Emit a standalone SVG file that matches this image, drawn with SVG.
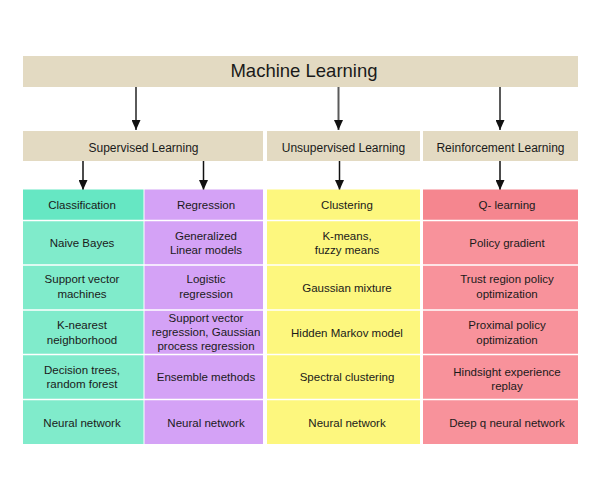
<svg xmlns="http://www.w3.org/2000/svg" width="601" height="501" viewBox="0 0 601 501">
  <defs>
    <style>
      text { font-family: "Liberation Sans", Arial, sans-serif; fill: #1a1a1a; text-anchor: middle; }
      .hdr { fill: #e3dac2; }
      .title { font-size: 18.5px; }
      .cat { font-size: 12px; }
      .cell { font-size: 11.5px; }
      .sep { stroke: #ffffff; stroke-width: 1.5; }
      .link-main { stroke: #5a5a5a; stroke-width: 2; fill: none; }
      .link-sub { stroke: #111111; stroke-width: 1.5; fill: none; }
    </style>
    <marker id="arrow" viewBox="0 0 10 9" refX="10" refY="4.5" markerWidth="10" markerHeight="9" markerUnits="userSpaceOnUse" orient="auto">
      <path d="M0,0 L10,4.5 L0,9 Z" fill="#111111"/>
    </marker>
  </defs>

  <rect width="601" height="501" fill="#ffffff"/>

  <!-- root -->
  <g id="machine-learning">
    <rect class="hdr" x="23" y="56" width="555" height="31"/>
    <text class="title" x="304" y="77">Machine Learning</text>
  </g>

  <!-- learning paradigms -->
  <g id="supervised">
    <rect class="hdr" x="23" y="131" width="240" height="30"/>
    <text class="cat" x="143.5" y="152">Supervised Learning</text>
  </g>
  <g id="unsupervised">
    <rect class="hdr" x="267" y="131" width="153" height="30"/>
    <text class="cat" x="343.5" y="152">Unsupervised Learning</text>
  </g>
  <g id="reinforcement">
    <rect class="hdr" x="423" y="131" width="155" height="30"/>
    <text class="cat" x="500.5" y="152">Reinforcement Learning</text>
  </g>

  <!-- connectors -->
  <g id="connectors">
    <line class="link-main" x1="136" y1="87" x2="136" y2="130" marker-end="url(#arrow)"/>
    <line class="link-main" x1="338.5" y1="87" x2="338.5" y2="130" marker-end="url(#arrow)"/>
    <line class="link-main" x1="500" y1="87" x2="500" y2="130" marker-end="url(#arrow)"/>
    <line class="link-sub" x1="83" y1="161" x2="83" y2="190" marker-end="url(#arrow)"/>
    <line class="link-sub" x1="203.5" y1="161" x2="203.5" y2="190" marker-end="url(#arrow)"/>
    <line class="link-sub" x1="339.5" y1="161" x2="339.5" y2="190" marker-end="url(#arrow)"/>
    <line class="link-sub" x1="500" y1="161" x2="500" y2="190" marker-end="url(#arrow)"/>
  </g>

  <!-- Classification column -->
  <g id="classification">
    <rect x="23" y="189.5" width="120.5" height="31" fill="#66e7c3"/>
    <rect x="23" y="220.5" width="120.5" height="223.5" fill="#80ebcb"/>
    <text class="cell" x="82" y="209">Classification</text>
    <text class="cell" x="82" y="247">Naive Bayes</text>
    <text class="cell" x="82" y="283">Support vector</text>
    <text class="cell" x="82" y="297.5">machines</text>
    <text class="cell" x="82" y="329">K-nearest</text>
    <text class="cell" x="82" y="343.5">neighborhood</text>
    <text class="cell" x="82" y="373.5">Decision trees,</text>
    <text class="cell" x="82" y="388">random forest</text>
    <text class="cell" x="82" y="426.5">Neural network</text>
  </g>

  <!-- Regression column -->
  <g id="regression">
    <rect x="144.5" y="189.5" width="118.5" height="254.5" fill="#d4a2f6"/>
    <text class="cell" x="206" y="209">Regression</text>
    <text class="cell" x="206" y="239.5">Generalized</text>
    <text class="cell" x="206" y="254">Linear models</text>
    <text class="cell" x="206" y="283">Logistic</text>
    <text class="cell" x="206" y="297.5">regression</text>
    <text class="cell" x="206" y="322">Support vector</text>
    <text class="cell" x="206" y="336.3">regression, Gaussian</text>
    <text class="cell" x="206" y="350.3">process regression</text>
    <text class="cell" x="206" y="381">Ensemble methods</text>
    <text class="cell" x="206" y="426.5">Neural network</text>
  </g>

  <!-- Clustering column -->
  <g id="clustering">
    <rect x="267" y="189.5" width="153" height="254.5" fill="#fdf77e"/>
    <text class="cell" x="347" y="209">Clustering</text>
    <text class="cell" x="347" y="239.5">K-means,</text>
    <text class="cell" x="347" y="254">fuzzy means</text>
    <text class="cell" x="347" y="291.5">Gaussian mixture</text>
    <text class="cell" x="347" y="336.5">Hidden Markov model</text>
    <text class="cell" x="347" y="381">Spectral clustering</text>
    <text class="cell" x="347" y="426.5">Neural network</text>
  </g>

  <!-- Q-learning column -->
  <g id="q-learning">
    <rect x="423" y="189.5" width="155" height="31" fill="#f5868f"/>
    <rect x="423" y="220.5" width="155" height="223.5" fill="#f8929b"/>
    <text class="cell" x="507" y="209">Q- learning</text>
    <text class="cell" x="507" y="247">Policy gradient</text>
    <text class="cell" x="507" y="283">Trust region policy</text>
    <text class="cell" x="507" y="297.5">optimization</text>
    <text class="cell" x="507" y="329">Proximal policy</text>
    <text class="cell" x="507" y="343.5">optimization</text>
    <text class="cell" x="507" y="376">Hindsight experience</text>
    <text class="cell" x="507" y="390">replay</text>
    <text class="cell" x="507" y="426.5">Deep q neural network</text>
  </g>

  <!-- row separators -->
  <g id="row-lines">
    <line class="sep" x1="23" y1="220.5" x2="578" y2="220.5"/>
    <line class="sep" x1="23" y1="265" x2="578" y2="265"/>
    <line class="sep" x1="23" y1="310" x2="578" y2="310"/>
    <line class="sep" x1="23" y1="354.5" x2="578" y2="354.5"/>
    <line class="sep" x1="23" y1="399.5" x2="578" y2="399.5"/>
  </g>
</svg>
